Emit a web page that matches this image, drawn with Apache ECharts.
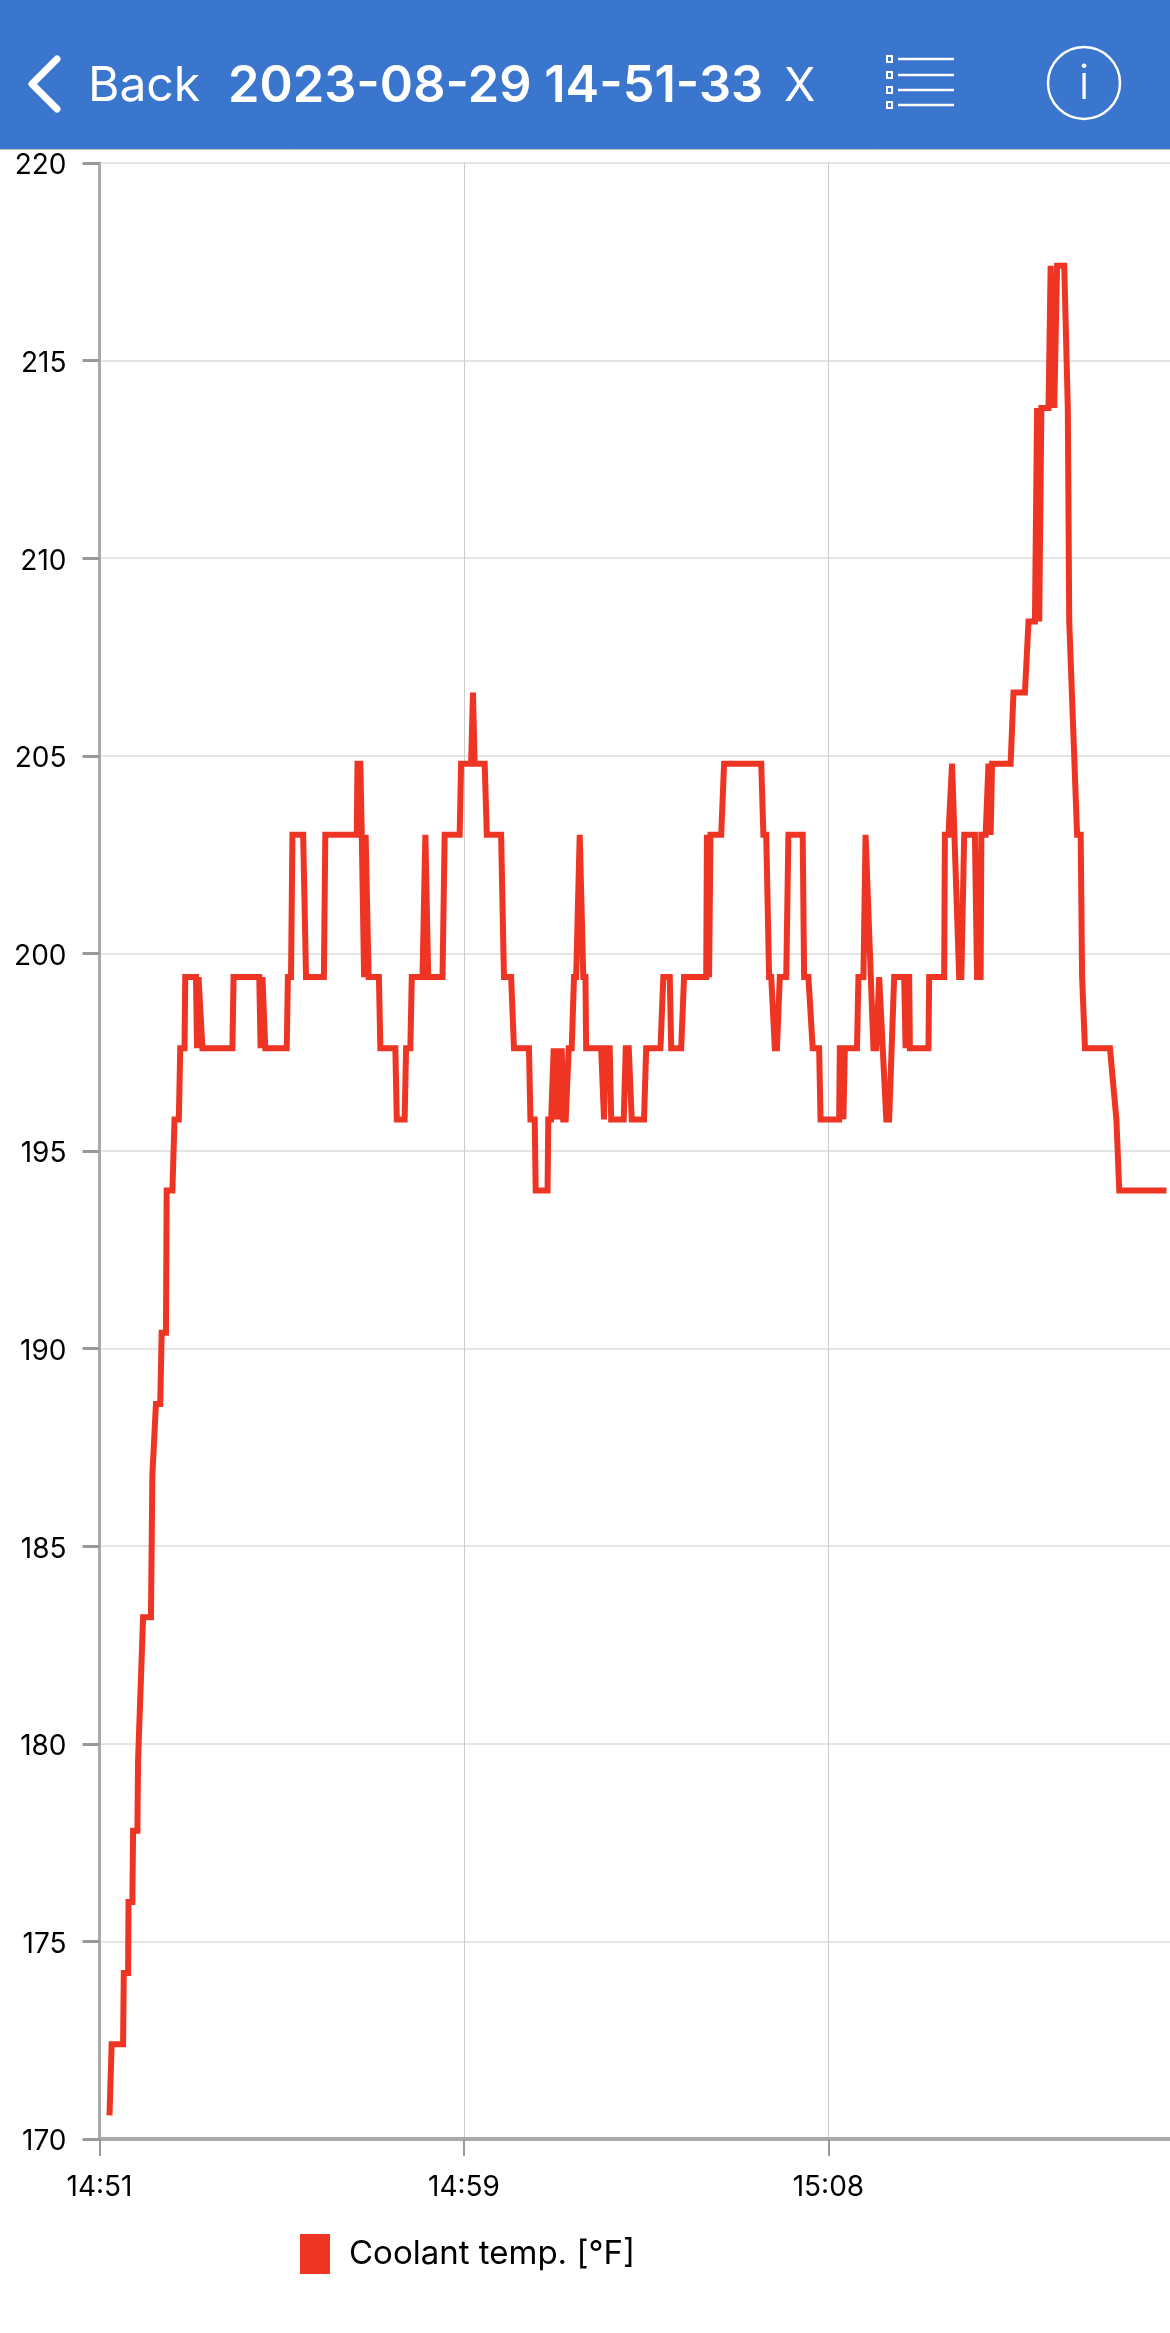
<!DOCTYPE html>
<html>
<head>
<meta charset="utf-8">
<style>html,body{margin:0;padding:0;background:#fff}#c{width:1170px;height:2333px}</style>
<script src="https://cdn.jsdelivr.net/npm/echarts@6/dist/echarts.min.js"></script>
</head>
<body>
<div id="c"></div>
<script>
const seriesName = 'Coolant temp. [°F]';
const headerTitle = '2023-08-29 14-51-33';
const timeTickLabels = ['14:51', '14:59', '15:08'];
const elapsedSeconds = [
14,17,33,34,40,40.6,46,47,53,54,61,72,74,79,85,87,93,94,102,105,111,113,119,120,135,136.5,138.6,140,144,186,187.6,223.6,225.4,228,232,262,263.6,268,270,285,289,314,316,360,361,365,367,370.3,372.4,374,376.6,391,393,414,416,427,429,435,437,452,456,460,480,483,504,506,520,522.6,523.6,525,539,542,562,566,576,580,601,603,609,610.4,627,628,632,635.6,638.4,641.2,644,646.8,648.9,652.4,656.6,660.8,664,667,672,677,680,681,702,706,708,714,716,733.6,736.4,740.6,744.8,762,765,785,789,798,800,814,818,849,850,853,855,870,874,926,929,933,937,940,945,948,952,961,964,984,986,992,998,1007,1009,1035,1036,1039,1041,1043,1060,1062,1069,1072,1083,1087,1091,1101,1105,1112,1126,1128,1130,1133,1134,1160,1161,1182,1183,1188,1193,1194,1203,1206,1210,1225,1228,1233,1234,1240,1244,1247,1249,1275,1279,1295,1300,1309,1312,1315,1317,1318,1328,1331,1336,1338.4,1340,1350,1355,1357,1368,1373,1375,1379,1414,1423,1427,1493
];
const coolantTempF = [
170.6,172.4,172.4,174.2,174.2,176,176,177.8,177.8,179.6,183.2,183.2,186.8,188.6,188.6,190.4,190.4,194,194,195.8,195.8,197.6,197.6,199.4,199.4,197.6,199.4,199.4,197.6,197.6,199.4,199.4,197.6,199.4,197.6,197.6,199.4,199.4,203,203,199.4,199.4,203,203,204.8,204.8,203,199.4,203,203,199.4,199.4,197.6,197.6,195.8,195.8,197.6,197.6,199.4,199.4,203,199.4,199.4,203,203,204.8,204.8,206.6,206.6,204.8,204.8,203,203,199.4,199.4,197.6,197.6,195.8,195.8,194,194,195.8,195.8,197.6,195.8,197.6,195.8,197.6,195.8,195.8,197.6,197.6,199.4,199.4,203,199.4,199.4,197.6,197.6,195.8,197.6,197.6,195.8,195.8,197.6,197.6,195.8,195.8,197.6,197.6,199.4,199.4,197.6,197.6,199.4,199.4,203,199.4,203,203,204.8,204.8,203,203,199.4,199.4,197.6,197.6,199.4,199.4,203,203,199.4,199.4,197.6,197.6,195.8,195.8,197.6,197.6,195.8,197.6,197.6,199.4,199.4,203,197.6,197.6,199.4,195.8,195.8,199.4,199.4,197.6,199.4,199.4,197.6,197.6,199.4,199.4,203,203,204.8,204.8,199.4,199.4,203,203,199.4,199.4,203,203,204.8,203,204.8,204.8,206.6,206.6,208.4,208.4,213.8,208.4,208.4,213.8,213.8,217.4,213.8,213.8,217.4,217.4,213.8,208.4,203,203,199.4,197.6,197.6,195.8,194,194
];
const tickSeconds = 510;
const axisFont = 'Inter, "Liberation Sans", sans-serif';
const points = elapsedSeconds.map((t, i) => [t, coolantTempF[i]]);

const white = '#fff';
const menuRows = [59, 75, 90, 105];
const menuGraphics = [];
menuRows.forEach(y => {
  menuGraphics.push({type:'rect', shape:{x:887,y:y-3,width:5,height:6}, style:{fill:'none',stroke:white,lineWidth:2}});
  menuGraphics.push({type:'line', shape:{x1:898,y1:y,x2:954,y2:y}, style:{stroke:white,lineWidth:2.5}});
});

const chart = echarts.init(document.getElementById('c'), null, {renderer:'canvas'});
chart.setOption({
  animation:false,
  backgroundColor:'#fff',
  grid:{left:99.5, top:163, width:1070.5, height:1976, containLabel:false},
  legend:{
    left:300, top:2234, padding:0, itemWidth:30, itemHeight:40, icon:'rect',
    data:[seriesName], selectedMode:false, itemGap:0,
    textStyle:{fontFamily:axisFont,fontSize:33,color:'#000',padding:[0,0,0,14]}
  },
  xAxis:{
    type:'value', min:0, max:1498, interval:tickSeconds,
    axisLine:{show:true,onZero:false,lineStyle:{color:'#aaa',width:4}},
    axisTick:{show:true,length:17,lineStyle:{color:'#999',width:2}},
    axisLabel:{margin:35,color:'#000',fontFamily:axisFont,fontSize:28,
      showMaxLabel:false,
      formatter:v => timeTickLabels[Math.round(v / tickSeconds)] || ''},
    splitLine:{show:true,lineStyle:{color:'#ccc',width:1}}
  },
  yAxis:{
    type:'value', min:170, max:220, interval:5,
    axisLine:{show:true,onZero:false,lineStyle:{color:'#aaa',width:3}},
    axisTick:{show:true,length:17,lineStyle:{color:'#999',width:3}},
    axisLabel:{margin:33,color:'#000',fontFamily:axisFont,fontSize:28,
      formatter:v => '{a|' + v + '}',
      rich:{a:{fontFamily:axisFont,fontSize:28,color:'#000',padding:[6,0,0,0]}}},
    splitLine:{show:true,lineStyle:{color:'#ddd',width:1.5}}
  },
  series:[{
    name:seriesName, type:'line', data:points, smooth:false, showSymbol:false,
    color:'#EE3524',
    lineStyle:{color:'#EE3524',width:6,join:'miter',cap:'butt'}
  }],
  graphic:[
    {type:'rect',z:10,shape:{x:0,y:0,width:1170,height:149},style:{fill:'#3A75CE'}},
    {type:'line',z:10,shape:{x1:0,y1:149.5,x2:1170,y2:149.5},style:{stroke:'#c4c4c4',lineWidth:1}},
    {type:'polyline',z:11,shape:{points:[[57,59],[32,84],[57,109]]},style:{stroke:white,fill:'none',lineWidth:7,lineCap:'round',lineJoin:'round'}},
    {type:'text',z:11,x:88,y:87,style:{text:'Back',fill:white,font:'400 48px '+axisFont,textVerticalAlign:'middle'}},
    {type:'text',z:11,x:228,y:87,style:{text:headerTitle,fill:white,font:'600 50.5px '+axisFont,textVerticalAlign:'middle'}},
    {type:'text',z:11,x:784,y:87,style:{text:'X',fill:white,font:'400 46px '+axisFont,textVerticalAlign:'middle'}},
    {type:'group',z:11,children:menuGraphics.map(g => Object.assign({z:11},g))},
    {type:'circle',z:11,shape:{cx:1084,cy:83,r:36},style:{stroke:white,fill:'none',lineWidth:2.5}},
    {type:'text',z:11,x:1084,y:85,style:{text:'i',fill:white,font:'300 48px '+axisFont,textAlign:'center',textVerticalAlign:'middle'}}
  ]
});
</script>
</body>
</html>
